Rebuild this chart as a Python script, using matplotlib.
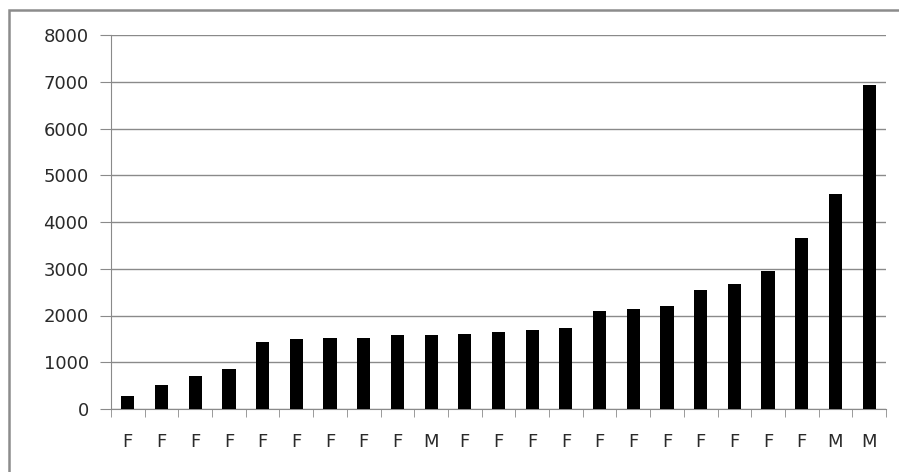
import matplotlib
matplotlib.use("Agg")
import matplotlib.pyplot as plt
from matplotlib.patches import Rectangle

categories = ["F", "F", "F", "F", "F", "F", "F", "F", "F", "M", "F", "F",
              "F", "F", "F", "F", "F", "F", "F", "F", "F", "M", "M"]
values = [270, 520, 697, 855, 1433, 1497, 1519, 1519, 1590, 1590, 1611, 1639,
          1696, 1725, 2103, 2146, 2195, 2545, 2681, 2945, 3658, 4599, 6937]
yticks = [0, 1000, 2000, 3000, 4000, 5000, 6000, 7000, 8000]

W, H = 899, 472
fig = plt.figure(figsize=(W / 100, H / 100), dpi=100)
fig.patch.set_facecolor("white")

# outer chart border
fig.patches.append(Rectangle((9 / W, -0.05), 1.2, (H - 10) / H + 0.05,
                             transform=fig.transFigure, fill=False,
                             edgecolor="#8c8c8c", linewidth=1.8))

left, right, top, bottom = 111, 886, 35, 409
ax = fig.add_axes([left / W, 1 - bottom / H, (right - left) / W, (bottom - top) / H])

x = list(range(len(values)))
ax.bar(x, values, width=0.39, color="black", zorder=3)
ax.set_xlim(-0.5, len(values) - 0.5)
ax.set_ylim(0, 8000)
ax.set_yticks(yticks)
ax.set_yticklabels([str(v) for v in yticks])
ax.set_xticks(x)
ax.set_xticklabels(categories)

ax.grid(axis="y", color="#8a8a8a", linewidth=1.0, zorder=0)
for s in ["top", "right"]:
    ax.spines[s].set_visible(False)
ax.spines["left"].set_color("#8a8a8a")
ax.spines["bottom"].set_color("#8a8a8a")

# minor ticks at category boundaries for x axis
ax.set_xticks([i - 0.5 for i in range(len(values) + 1)], minor=True)
ax.tick_params(axis="x", which="major", length=0, pad=17, labelsize=13, labelcolor="#2a2a2a")
ax.tick_params(axis="x", which="minor", length=6, color="#8a8a8a", direction="out")
ax.tick_params(axis="y", length=8, color="#8a8a8a", direction="out", pad=8,
               labelsize=13, labelcolor="#2a2a2a")

fig.savefig("out.png", dpi=100, facecolor="white")
